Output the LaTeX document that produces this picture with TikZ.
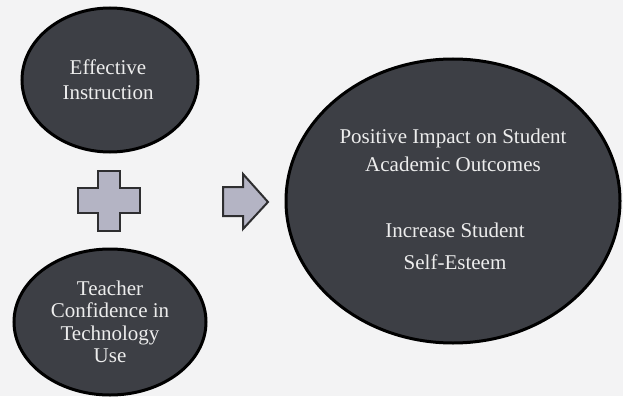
\documentclass[tikz,border=0pt]{standalone}
\usepackage{fontspec}
\setmainfont{Liberation Serif}
\usetikzlibrary{shapes.geometric}
\definecolor{bg}{HTML}{F3F3F4}
\definecolor{ellfill}{HTML}{3D3F45}
\definecolor{symfill}{HTML}{B4B4C4}
\definecolor{symline}{HTML}{2E2E30}
\definecolor{txt}{HTML}{EDEDED}
\tikzset{
  bubble/.style={ellipse, draw=black, line width=3pt, fill=ellfill, inner sep=0pt},
  bubtext/.style={text=txt, align=center, font=\fontsize{21}{25}\selectfont},
  sym/.style={draw=symline, line width=2pt, fill=symfill, line join=miter}
}
\begin{document}
\begin{tikzpicture}[x=1pt,y=-1pt]
\fill[bg] (0,0) rectangle (623,396);
\useasboundingbox (0,0) rectangle (623,396);
% ellipses
\node[bubble, minimum width=176pt, minimum height=144pt] (eff) at (110,80) {};
\node[bubble, minimum width=192pt, minimum height=146pt] (tea) at (110,322) {};
\node[bubble, minimum width=334pt, minimum height=284pt] (out) at (453,201) {};
% texts
\node[bubtext] (efft) at (108,80) {Effective\\Instruction};
\node[bubtext, font=\fontsize{21}{22.5}\selectfont] (teat) at (110,322) {Teacher\\Confidence in\\Technology\\Use};
\node[bubtext, font=\fontsize{21}{28}\selectfont] (outt1) at (453,150) {Positive Impact on Student\\Academic Outcomes};
\node[bubtext, font=\fontsize{21}{32}\selectfont] (outt2) at (455,246) {Increase Student\\Self-Esteem};
% plus sign
\draw[sym] (98,171) -- (120,171) -- (120,188) -- (140,188) -- (140,213) -- (120,213)
  -- (120,231) -- (98,231) -- (98,213) -- (78,213) -- (78,188) -- (98,188) -- cycle;
% arrow
\draw[sym] (223,187) -- (243,187) -- (243,174) -- (268,202) -- (243,229) -- (243,216) -- (223,216) -- cycle;
\end{tikzpicture}
\end{document}
